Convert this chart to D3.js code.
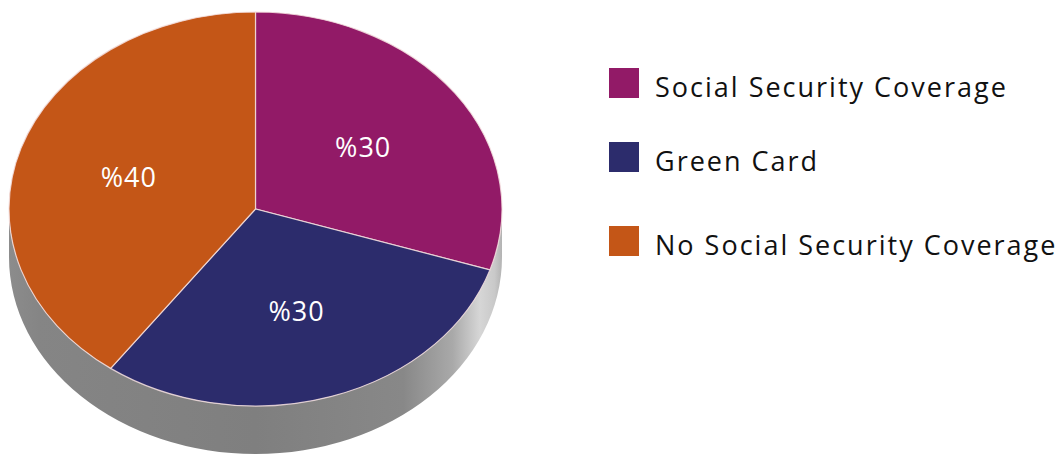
<!DOCTYPE html>
<html>
<head>
<meta charset="utf-8">
<script src="https://cdn.jsdelivr.net/npm/d3@7"></script>
<style>
  html, body { margin: 0; padding: 0; background: #ffffff; }
  svg { display: block; }
  text { font-family: "Open Sans", "Noto Sans", sans-serif; }
</style>
</head>
<body>
<svg id="chart" width="1059" height="460"></svg>
<script>
// Category shares (percent)
const categories = ["Social Security Coverage", "Green Card", "No Social Security Coverage"];
const shares = [30, 30, 40];
const labels = ["%30", "%30", "%40"];
const colors = ["#921a67", "#2c2c6c", "#c45617"];

const W = 1059, H = 460;
const cx = 255.5, cy = 209;
const rx = 246.5, ry = 197;      // top face ellipse
const depth = 48;                // cylinder wall height
const tilt = ry / rx;

const svg = d3.select("#chart");
const defs = svg.append("defs");

// Shaded wall of the cylinder
const grad = defs.append("linearGradient")
  .attr("id", "wall").attr("x1", "0").attr("x2", "1").attr("y1", "0").attr("y2", "0");
[[0, "#8c8c8c"], [0.06, "#858585"], [0.5, "#7f7f7f"], [0.8, "#888888"],
 [0.9, "#a9a9a9"], [0.955, "#d6d6d6"], [0.985, "#c9c9c9"], [1, "#b3b3b3"]]
  .forEach(([o, c]) => grad.append("stop").attr("offset", o).attr("stop-color", c));

svg.append("path")
  .attr("d", `M${cx - rx},${cy} A${rx},${ry} 0 0 0 ${cx + rx},${cy}
              L${cx + rx},${cy + depth} A${rx},${ry} 0 0 1 ${cx - rx},${cy + depth} Z`)
  .attr("fill", "url(#wall)");

// Top face: pie slices on a circle squashed into the ellipse
const pie = d3.pie().sort(null).value(d => d.value).startAngle(0).endAngle(2 * Math.PI);
const data = categories.map((c, i) => ({ name: c, value: shares[i], label: labels[i], color: colors[i] }));
const arcs = pie(data);
const arc = d3.arc().innerRadius(0).outerRadius(rx);

const topFace = svg.append("g").attr("transform", `translate(${cx},${cy}) scale(1,${tilt})`);
topFace.selectAll("path.slice")
  .data(arcs)
  .join("path")
  .attr("class", "slice")
  .attr("d", arc)
  .attr("fill", d => d.data.color)
  .attr("stroke", "#f3dede")
  .attr("stroke-opacity", 0.85)
  .attr("stroke-width", 1.2)
  .attr("vector-effect", "non-scaling-stroke");

// Value labels
const labelArc = d3.arc().innerRadius(rx * 0.54).outerRadius(rx * 0.54);
svg.append("g").selectAll("text")
  .data(arcs)
  .join("text")
  .attr("x", d => cx + labelArc.centroid(d)[0])
  .attr("y", d => cy + labelArc.centroid(d)[1] * tilt)
  .attr("text-anchor", "middle")
  .attr("dominant-baseline", "central")
  .attr("fill", "#ffffff")
  .attr("font-size", 27)
  .attr("letter-spacing", 1)
  .text(d => d.data.label);

// Legend
const legendTop = d3.scaleOrdinal().domain(categories).range([68, 142, 226]);
const legend = svg.append("g");
const item = legend.selectAll("g")
  .data(data)
  .join("g")
  .attr("transform", d => `translate(609,${legendTop(d.name)})`);
item.append("rect")
  .attr("width", 30).attr("height", 30)
  .attr("fill", d => d.color);
item.append("text")
  .attr("x", 46).attr("y", 29)
  .attr("font-size", 27)
  .attr("letter-spacing", 2)
  .attr("fill", "#111111")
  .text(d => d.name);
</script>
</body>
</html>
